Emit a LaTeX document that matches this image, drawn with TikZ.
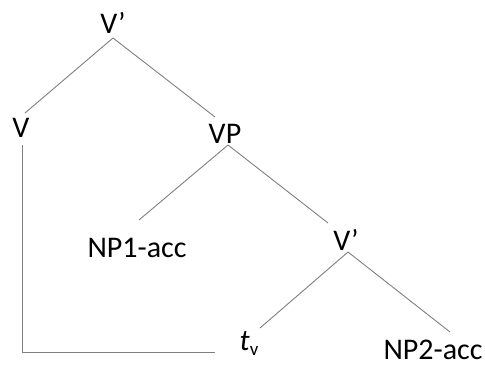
\documentclass[tikz,border=0pt]{standalone}
\usepackage{fontspec}
\setmainfont{Carlito}
\begin{document}
\begin{tikzpicture}[x=1pt,y=-1pt,
  lbl/.style={anchor=base,inner sep=0pt,font=\fontsize{30}{36}\selectfont},
  branch/.style={draw=black!50,line width=0.9pt}]
\useasboundingbox[fill=white] (0,0) rectangle (485,365);
\node[lbl] (top) at (113,33) {V’};
\node[lbl] (v) at (21,137) {V};
\node[lbl] (vp) at (225,143) {VP};
\node[lbl] (np1) at (137,257) {NP1-acc};
\node[lbl] (vbar2) at (346,250) {V’};
\node[lbl] (tv) at (249,350) {\textit{t}\raisebox{-5pt}{\fontsize{19}{20}\selectfont v}};
\node[lbl] (np2) at (433,359) {NP2-acc};
\draw[branch] ([shift={(0,5)}]top.base) -- ([shift={(4,-24)}]v.base);
\draw[branch] ([shift={(0,5)}]top.base) -- ([shift={(-10,-26)}]vp.base);
\draw[branch] ([shift={(3,2)}]vp.base) -- ([shift={(2,-37)}]np1.base);
\draw[branch] ([shift={(3,2)}]vp.base) -- ([shift={(-18,-27)}]vbar2.base);
\draw[branch] ([shift={(2,2)}]vbar2.base) -- ([shift={(11,-22)}]tv.base);
\draw[branch] ([shift={(2,2)}]vbar2.base) -- ([shift={(17,-27)}]np2.base);
\draw[branch] ([shift={(1,8)}]v.base) |- ([shift={(-34,2)}]tv.base);
\end{tikzpicture}
\end{document}
